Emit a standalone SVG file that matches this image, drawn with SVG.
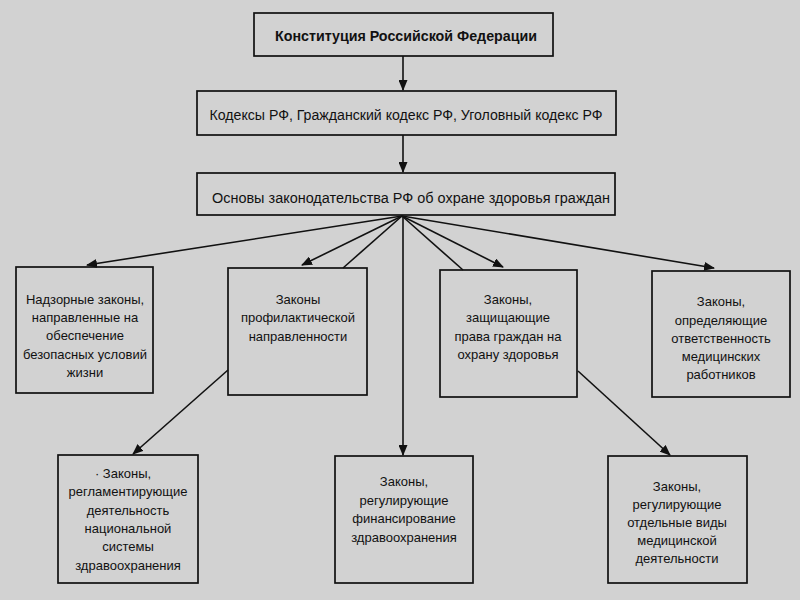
<svg xmlns="http://www.w3.org/2000/svg" width="800" height="600" viewBox="0 0 800 600">
<style>
.box{fill:none;stroke:#111;stroke-width:1.7}
.t{font-family:"Liberation Sans",Arial,sans-serif;font-size:13px;fill:#111;text-anchor:middle}
.tb{font-family:"Liberation Sans",Arial,sans-serif;font-size:15px;font-weight:bold;fill:#111;text-anchor:middle}
.tm{font-family:"Liberation Sans",Arial,sans-serif;font-size:14px;fill:#111;text-anchor:middle}
.c{fill:none;stroke:#111;stroke-width:1.6}
</style>
<defs>
<marker id="ah" markerUnits="userSpaceOnUse" markerWidth="11" markerHeight="9" refX="10" refY="4.5" orient="auto">
<path d="M0,0 L11,4.5 L0,9 z" fill="#111"/>
</marker>
</defs>
<rect x="0" y="0" width="800" height="600" fill="#d2d2d2"/>
<g id="connectors">
<path class="c" d="M403,56 L403,90" marker-end="url(#ah)"/>
<path class="c" d="M403,135 L403,172" marker-end="url(#ah)"/>
<path class="c" d="M402,216 L87,265" marker-end="url(#ah)"/>
<path class="c" d="M402,216 L302,265" marker-end="url(#ah)"/>
<path class="c" d="M402,216 L343,268"/>
<path class="c" d="M403,216 L403,455" marker-end="url(#ah)"/>
<path class="c" d="M402,216 L463,270"/>
<path class="c" d="M402,216 L503,267" marker-end="url(#ah)"/>
<path class="c" d="M402,216 L714,268" marker-end="url(#ah)"/>
<path class="c" d="M228,370 L133,454" marker-end="url(#ah)"/>
<path class="c" d="M578,371 L670,455" marker-end="url(#ah)"/>
</g>
<g id="constitution">
<rect class="box" x="254" y="13" width="299" height="43"/>
<text class="tb" x="406" y="41" textLength="262" lengthAdjust="spacingAndGlyphs">Конституция Российской Федерации</text>
</g>
<g id="codes">
<rect class="box" x="197" y="91" width="419" height="44"/>
<text class="tm" x="406" y="120" textLength="393" lengthAdjust="spacingAndGlyphs">Кодексы РФ, Гражданский кодекс РФ, Уголовный кодекс РФ</text>
</g>
<g id="osnovy">
<rect class="box" x="197" y="173" width="418" height="42"/>
<text class="tm" x="411" y="203" textLength="398" lengthAdjust="spacingAndGlyphs">Основы законодательства РФ об охране здоровья граждан</text>
</g>
<g id="n1">
<rect class="box" x="16" y="267" width="137" height="126"/>
<text class="t" x="85" y="304">Надзорные законы,</text>
<text class="t" x="85" y="322">направленные на</text>
<text class="t" x="85" y="340">обеспечение</text>
<text class="t" x="85" y="359">безопасных условий</text>
<text class="t" x="85" y="377">жизни</text>
</g>
<g id="n2">
<rect class="box" x="228" y="268" width="139" height="127"/>
<text class="t" x="298" y="304">Законы</text>
<text class="t" x="298" y="322">профилактической</text>
<text class="t" x="298" y="341">направленности</text>
</g>
<g id="n3">
<rect class="box" x="440" y="270" width="137" height="127"/>
<text class="t" x="508" y="304">Законы,</text>
<text class="t" x="508" y="322">защищающие</text>
<text class="t" x="508" y="341">права граждан на</text>
<text class="t" x="508" y="359">охрану здоровья</text>
</g>
<g id="n4">
<rect class="box" x="652" y="271" width="138" height="126"/>
<text class="t" x="721" y="306">Законы,</text>
<text class="t" x="721" y="325">определяющие</text>
<text class="t" x="721" y="343">ответственность</text>
<text class="t" x="721" y="361">медицинских</text>
<text class="t" x="721" y="379">работников</text>
</g>
<g id="n5">
<rect class="box" x="58" y="455" width="140" height="128"/>
<text class="t" x="123" y="478">·  Законы,</text>
<text class="t" x="128" y="496">регламентирующие</text>
<text class="t" x="128" y="515">деятельность</text>
<text class="t" x="128" y="533">национальной</text>
<text class="t" x="128" y="551">системы</text>
<text class="t" x="128" y="570">здравоохранения</text>
</g>
<g id="n6">
<rect class="box" x="335" y="456" width="138" height="127"/>
<text class="t" x="404" y="486">Законы,</text>
<text class="t" x="404" y="505">регулирующие</text>
<text class="t" x="404" y="523">финансирование</text>
<text class="t" x="404" y="542">здравоохранения</text>
</g>
<g id="n7">
<rect class="box" x="608" y="456" width="139" height="127"/>
<text class="t" x="677" y="491">Законы,</text>
<text class="t" x="677" y="509">регулирующие</text>
<text class="t" x="677" y="527">отдельные виды</text>
<text class="t" x="677" y="545">медицинской</text>
<text class="t" x="677" y="563">деятельности</text>
</g>
</svg>
